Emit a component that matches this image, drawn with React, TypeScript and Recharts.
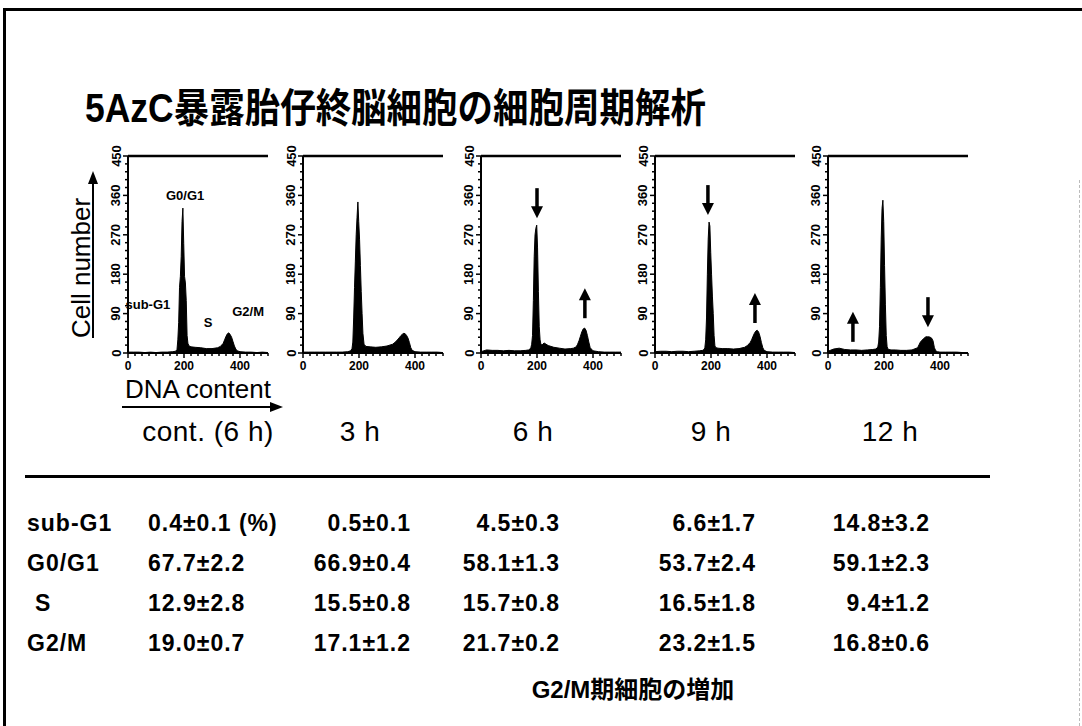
import React from 'react'
import { AreaChart, Area, XAxis, YAxis, ReferenceLine, ReferenceDot } from 'recharts'

// DNA content channels, shared by all histograms (denser around the G0/G1 and G2/M peaks)
const channels = [
  0, 20, 40, 60, 80, 100, 120, 140, 160,
  170, 175, 178, 181, 184, 187, 190, 193, 196, 199, 202, 205, 208, 211, 214, 218, 225,
  240, 260, 280, 300, 320, 330, 340,
  345, 350, 355, 360, 365, 370, 375, 380, 385, 390,
  400, 420, 440, 460, 480, 500,
]

// cell counts
const countsCont = [
  2, 2, 2, 1, 2, 1, 2, 2, 3,
  4, 8, 30, 70, 150, 175, 220, 300, 331, 250, 175, 160, 120, 40, 22, 16, 14,
  13, 12, 10, 10, 12, 15, 22,
  30, 38, 44, 46, 42, 36, 26, 16, 9, 5,
  3, 2, 2, 1, 2, 1,
]
const counts3h = [
  2, 2, 2, 2, 2, 2, 2, 2, 3,
  5, 10, 25, 80, 150, 210, 270, 310, 345, 300, 260, 200, 140, 90, 45, 20, 15,
  14, 13, 14, 16, 20, 25, 32,
  36, 40, 43, 45, 44, 40, 34, 24, 12, 6,
  3, 2, 2, 2, 2, 1,
]
const counts6h = [
  3, 7, 6, 6, 5, 6, 5, 5, 6,
  7, 9, 12, 20, 40, 120, 220, 270, 285, 292, 240, 140, 60, 30, 20, 18, 23,
  17, 13, 11, 9, 10, 11, 14,
  20, 28, 38, 48, 55, 57, 52, 40, 25, 12,
  5, 3, 2, 2, 2, 2,
]
const counts9h = [
  3, 4, 4, 3, 4, 4, 3, 4, 5,
  6, 8, 12, 30, 80, 180, 260, 299, 290, 230, 180, 130, 90, 40, 16, 12, 11,
  10, 10, 9, 10, 13, 17, 24,
  30, 38, 45, 50, 52, 48, 38, 24, 12, 6,
  3, 2, 2, 2, 2, 1,
]
const counts12h = [
  4, 9, 11, 8, 7, 7, 6, 7, 8,
  9, 11, 14, 25, 60, 150, 260, 330, 349, 300, 200, 110, 40, 15, 9, 8, 7,
  7, 6, 6, 7, 12, 25, 32,
  35, 37, 37, 37, 36, 34, 28, 12, 5, 3,
  2, 2, 2, 2, 1,
]

const xTicks = [0, 25, 50, 75, 100, 125, 150, 175, 200, 225, 250, 275, 300, 325, 350, 375, 400, 425, 450, 475, 500]
const xLabelTicks = [0, 200, 400]
const yTicks = [0, 18, 36, 54, 72, 90, 108, 126, 144, 162, 180, 198, 216, 234, 252, 270, 288, 306, 324, 342, 360, 378, 396, 414, 432, 450]
const yLabelTicks = [0, 90, 180, 270, 360, 450]

// arrows: x = channel, y = count at the arrow tip
const arrows6h = [{ x: 200, y: 308, dir: 'down' }, { x: 371, y: 148, dir: 'up' }]
const arrows9h = [{ x: 189, y: 315, dir: 'down' }, { x: 357, y: 137, dir: 'up' }]
const arrows12h = [{ x: 89, y: 94, dir: 'up' }, { x: 357, y: 59, dir: 'down' }]

// phase labels in the control histogram
const contLabels = [
  { text: 'G0/G1', x: 204, y: 361 },
  { text: 'sub-G1', x: 71, y: 112 },
  { text: 'S', x: 286, y: 71 },
  { text: 'G2/M', x: 429, y: 94 },
]

const timeLabels = ['cont. (6 h)', '3 h', '6 h', '9 h', '12 h']
const phaseLabels = ['sub-G1', 'G0/G1', 'S', 'G2/M']
const subG1Values = ['0.4±0.1 (%)', '0.5±0.1', '4.5±0.3', '6.6±1.7', '14.8±3.2']
const g0g1Values = ['67.7±2.2', '66.9±0.4', '58.1±1.3', '53.7±2.4', '59.1±2.3']
const sValues = ['12.9±2.8', '15.5±0.8', '15.7±0.8', '16.5±1.8', '9.4±1.2']
const g2mValues = ['19.0±0.7', '17.1±1.2', '21.7±0.2', '23.2±1.5', '16.8±0.6']

// layout
const panelAxisX = [128, 303, 481, 655, 828]
const headerX = [208, 360, 533, 711, 890]
const colRight = [0, 411, 560, 756, 930]
const rowY = [523, 563, 603, 643]

const LATIN = "'Liberation Sans', Arial, sans-serif"
const JP = "'Liberation Sans', 'Noto Sans CJK JP', sans-serif"

function XTick(props: any) {
  const { x, y, payload } = props
  const major = xLabelTicks.includes(payload.value)
  return (
    <g>
      <line x1={x} x2={x} y1={y} y2={y + (major ? 5 : 3)} stroke="#000" strokeWidth={1.5} />
      {major && (
        <text x={x} y={y + 17} textAnchor="middle" fontSize={12} fontWeight={700} fill="#000" fontFamily={LATIN}>
          {payload.value}
        </text>
      )}
    </g>
  )
}

function YTick(props: any) {
  const { x, y, payload } = props
  const major = yLabelTicks.includes(payload.value)
  const tx = x - 12
  return (
    <g>
      <line x1={x} x2={x - (major ? 5 : 3)} y1={y} y2={y} stroke="#000" strokeWidth={1.5} />
      {major && (
        <text
          x={tx}
          y={y}
          transform={`rotate(-90, ${tx}, ${y})`}
          textAnchor="middle"
          dominantBaseline="central"
          fontSize={13}
          fontWeight={700}
          fill="#000"
          fontFamily={LATIN}
        >
          {payload.value}
        </text>
      )}
    </g>
  )
}

function ArrowShape(props: any) {
  const { cx, cy, dir } = props
  const s = dir === 'down' ? -1 : 1
  return (
    <g>
      <line x1={cx} x2={cx} y1={cy + s * 30} y2={cy + s * 10} stroke="#000" strokeWidth={3.5} />
      <polygon points={`${cx - 6},${cy + s * 12} ${cx + 6},${cy + s * 12} ${cx},${cy}`} fill="#000" />
    </g>
  )
}

interface HistProps {
  counts: number[]
  axisX: number
  arrows?: { x: number; y: number; dir: string }[]
  labels?: { text: string; x: number; y: number }[]
}

function Histogram({ counts, axisX, arrows = [], labels = [] }: HistProps) {
  const data = channels.map((x, i) => ({ x, count: counts[i] }))
  return (
    <div style={{ position: 'absolute', left: axisX - 40, top: 140 }}>
      <AreaChart width={192} height={243} data={data} margin={{ top: 16, right: 12, bottom: 0, left: 0 }}>
        <XAxis
          type="number"
          dataKey="x"
          domain={[0, 500]}
          ticks={xTicks}
          interval={0}
          tick={XTick}
          tickLine={false}
          tickSize={0}
          tickMargin={0}
          height={30}
          axisLine={{ stroke: '#000', strokeWidth: 2 }}
          allowDataOverflow
        />
        <YAxis
          type="number"
          domain={[0, 450]}
          ticks={yTicks}
          interval={0}
          tick={YTick}
          tickLine={false}
          tickSize={0}
          tickMargin={0}
          width={40}
          axisLine={{ stroke: '#000', strokeWidth: 2 }}
          allowDataOverflow
        />
        <ReferenceLine y={450} stroke="#000" strokeWidth={2.5} />
        <Area
          type="linear"
          dataKey="count"
          stroke="#000"
          strokeWidth={1}
          fill="#000"
          fillOpacity={1}
          dot={false}
          activeDot={false}
          isAnimationActive={false}
        />
        {arrows.map((a, i) => (
          <ReferenceDot key={'a' + i} x={a.x} y={a.y} r={0} shape={(p: any) => <ArrowShape {...p} dir={a.dir} />} />
        ))}
        {labels.map((l, i) => (
          <ReferenceDot
            key={'l' + i}
            x={l.x}
            y={l.y}
            r={0}
            fill="none"
            stroke="none"
            label={{ value: l.text, position: 'center', fill: '#000', fontSize: 13, fontWeight: 700, fontFamily: LATIN }}
          />
        ))}
      </AreaChart>
    </div>
  )
}

const tableRows = [subG1Values, g0g1Values, sValues, g2mValues]

export default function App() {
  const tableFont: React.CSSProperties = {
    position: 'absolute',
    fontFamily: LATIN,
    fontSize: 23,
    fontWeight: 700,
    letterSpacing: 1,
    lineHeight: '30px',
    whiteSpace: 'nowrap',
  }
  return (
    <div
      style={{
        position: 'absolute',
        left: 0,
        top: 0,
        width: 1082,
        height: 726,
        background: '#fff',
        overflow: 'hidden',
        color: '#000',
        fontFamily: LATIN,
      }}
    >
      {/* frame */}
      <div style={{ position: 'absolute', left: 3, top: 8, width: 1079, height: 3, background: '#000' }} />
      <div style={{ position: 'absolute', left: 3, top: 8, width: 3, height: 718, background: '#000' }} />
      <div style={{ position: 'absolute', left: 1079, top: 180, width: 0, height: 546, borderLeft: '1px dashed #bbb' }} />

      {/* title */}
      <div
        style={{
          position: 'absolute',
          left: 85,
          top: 84,
          fontFamily: JP,
          fontSize: 40,
          fontWeight: 700,
          lineHeight: '48px',
          whiteSpace: 'nowrap',
          transform: 'scaleX(0.887)',
          transformOrigin: 'left center',
        }}
      >
        5AzC暴露胎仔終脳細胞の細胞周期解析
      </div>

      {/* axis captions */}
      <svg width={1082} height={726} style={{ position: 'absolute', left: 0, top: 0 }}>
        <text
          x={81}
          y={268}
          transform="rotate(-90, 81, 268)"
          textAnchor="middle"
          dominantBaseline="central"
          fontSize={26}
          fontFamily={LATIN}
          fill="#000"
        >
          Cell number
        </text>
        <line x1={93} x2={93} y1={338} y2={182} stroke="#000" strokeWidth={2} />
        <polygon points="88,184 98,184 93,171" fill="#000" />
        <text x={198} y={398} textAnchor="middle" fontSize={26} fontFamily={LATIN} fill="#000">
          DNA content
        </text>
        <line x1={122} x2={272} y1={407} y2={407} stroke="#000" strokeWidth={2} />
        <polygon points="270,402 270,412 283,407" fill="#000" />
      </svg>

      <Histogram counts={countsCont} axisX={panelAxisX[0]} labels={contLabels} />
      <Histogram counts={counts3h} axisX={panelAxisX[1]} />
      <Histogram counts={counts6h} axisX={panelAxisX[2]} arrows={arrows6h} />
      <Histogram counts={counts9h} axisX={panelAxisX[3]} arrows={arrows9h} />
      <Histogram counts={counts12h} axisX={panelAxisX[4]} arrows={arrows12h} />

      {/* time point headers */}
      {timeLabels.map((t, i) => (
        <div
          key={t}
          style={{
            position: 'absolute',
            left: headerX[i] - 100,
            width: 200,
            top: 414,
            textAlign: 'center',
            fontSize: 28,
            letterSpacing: 0.5,
            lineHeight: '36px',
            whiteSpace: 'nowrap',
          }}
        >
          {t}
        </div>
      ))}
      <div style={{ position: 'absolute', left: 25, top: 475, width: 965, height: 3, background: '#000' }} />

      {/* table */}
      {phaseLabels.map((p, r) => (
        <div key={p} style={{ ...tableFont, left: p === 'S' ? 35 : 27, top: rowY[r] - 15 }}>
          {p}
        </div>
      ))}
      {tableRows.map((row, r) =>
        row.map((v, c) =>
          c === 0 ? (
            <div key={r + '-' + c} style={{ ...tableFont, left: 148, top: rowY[r] - 15 }}>
              {v}
            </div>
          ) : (
            <div
              key={r + '-' + c}
              style={{ ...tableFont, left: colRight[c] - 200, width: 200, textAlign: 'right', top: rowY[r] - 15 }}
            >
              {v}
            </div>
          )
        )
      )}

      {/* footnote */}
      <div
        style={{
          position: 'absolute',
          left: 483,
          width: 300,
          top: 675,
          textAlign: 'center',
          fontFamily: JP,
          fontSize: 24,
          fontWeight: 700,
          lineHeight: '30px',
          whiteSpace: 'nowrap',
        }}
      >
        G2/M期細胞の増加
      </div>
    </div>
  )
}
